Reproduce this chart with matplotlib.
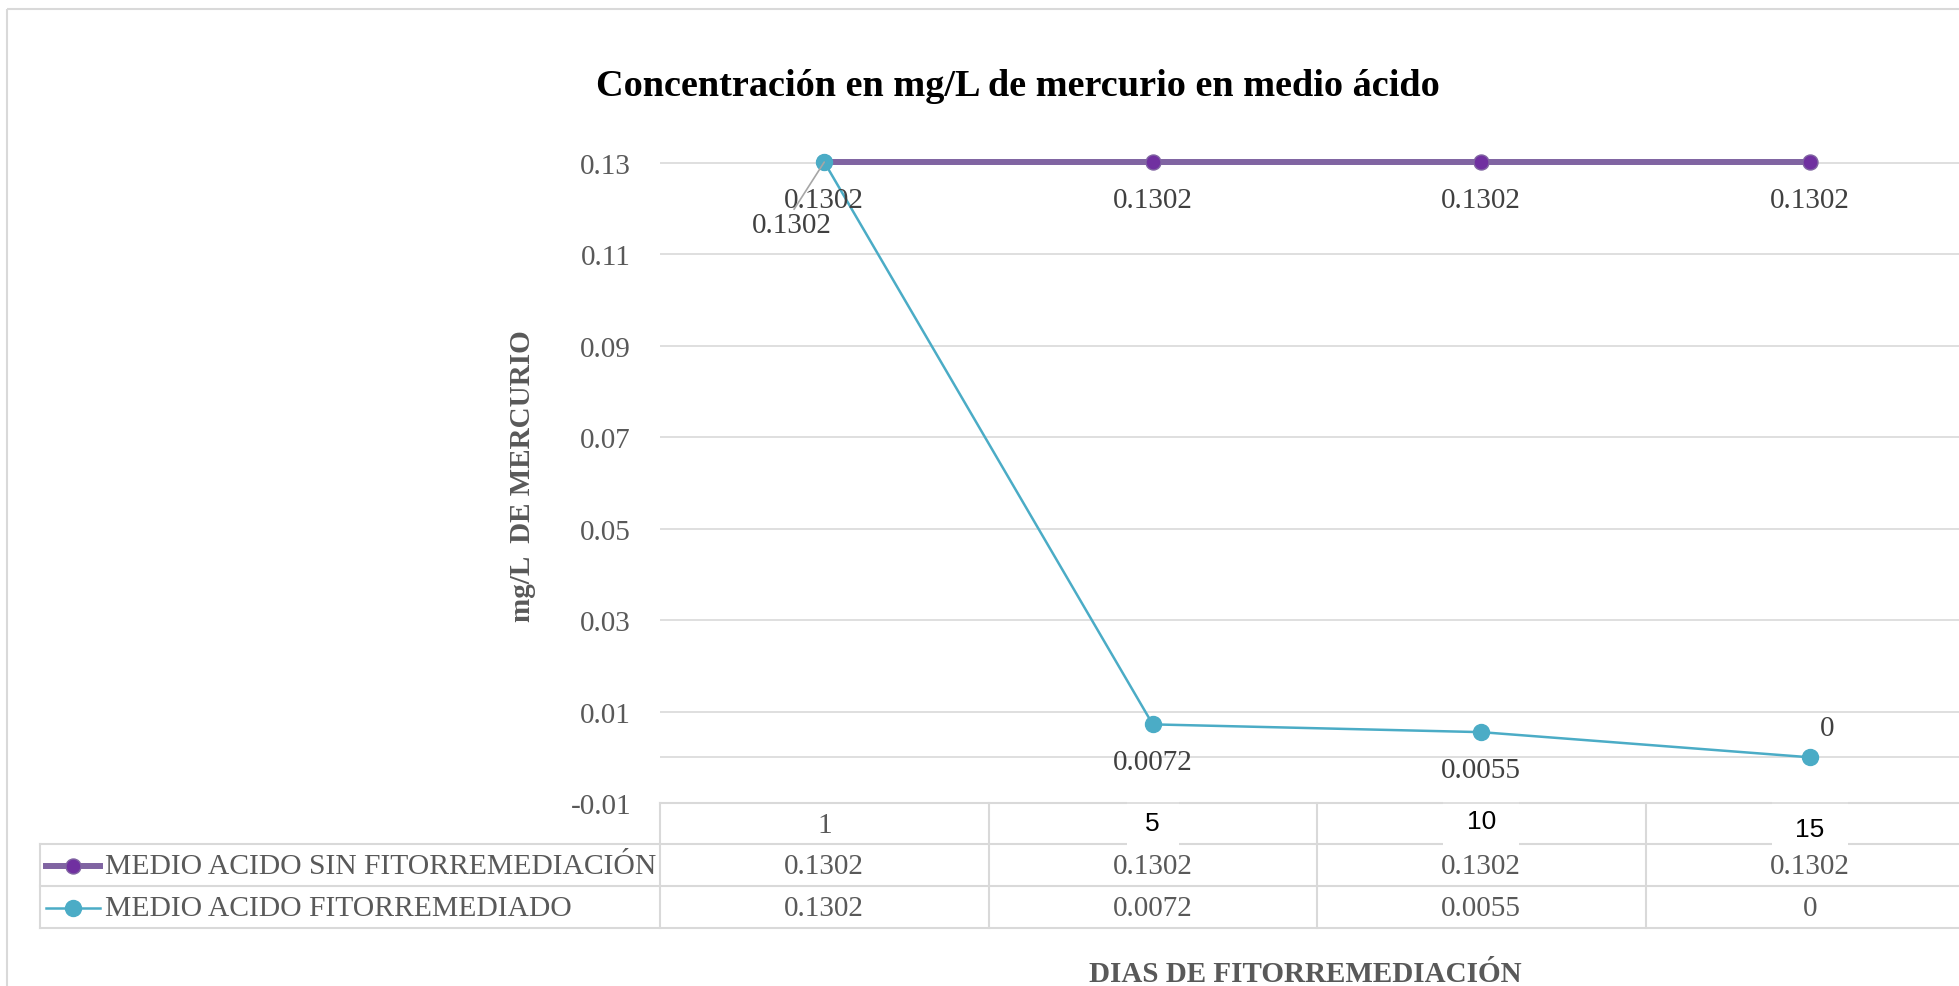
import matplotlib.pyplot as plt
from matplotlib.transforms import blended_transform_factory
from matplotlib.patches import Rectangle
from matplotlib.lines import Line2D

plt.rcParams['font.family'] = ['Liberation Serif', 'DejaVu Serif']

# datos
dias = ['1', '5', '10', '15']
sin_fito = [0.1302, 0.1302, 0.1302, 0.1302]
fito = [0.1302, 0.0072, 0.0055, 0]
series = ['MEDIO ACIDO SIN FITORREMEDIACIÓN', 'MEDIO ACIDO FITORREMEDIADO']
y_ticks = [-0.01, 0.01, 0.03, 0.05, 0.07, 0.09, 0.11, 0.13]

titulo = 'Concentración en mg/L de mercurio en medio ácido'
eje_x = 'DIAS DE FITORREMEDIACIÓN'
eje_y = 'mg/L  DE MERCURIO'

c_morado, c_morado_mk = '#8064A2', '#7030A0'
c_cian = '#4BACC6'
c_grid = '#D9D9D9'
c_txt = '#595959'
c_lbl = '#404040'

W, H = 1959, 987
PX = 0.72  # pixels -> points at dpi 100

fig = plt.figure(figsize=(W / 100, H / 100), dpi=100)

# capa de fondo en pixeles (origen arriba a la izquierda)
over = fig.add_axes([0, 0, 1, 1], zorder=0)
over.set_xlim(0, W)
over.set_ylim(H, 0)
over.axis('off')

# area de trazado
y0, y1 = -0.0102, 0.135
scale = (804 - 164) / 0.14
bot = 804 + (-0.01 - y0) * scale
top = 804 - (y1 + 0.01) * scale
band = 328.5
ax = fig.add_axes([660 / W, 1 - bot / H, (W - 660) / W, (bot - top) / H], zorder=1)
ax.patch.set_alpha(0)
x = list(range(len(dias)))
ax.set_xlim(-0.5, -0.5 + (W - 660) / band)
ax.set_ylim(y0, y1)
for s in ax.spines.values():
    s.set_visible(False)
ax.set_xticks([])
ax.set_yticks(y_ticks)
ax.set_yticklabels([f'{v:g}' for v in y_ticks])
ax.tick_params(axis='y', length=0, labelsize=21, labelcolor=c_txt, pad=29 * PX)
ax.yaxis.grid(True, color=c_grid, lw=1.2)
ax.axhline(0, color=c_grid, lw=1.2, zorder=1)

ax.plot(x, sin_fito, color=c_morado, lw=4.3, marker='o', ms=10.8,
        mfc=c_morado_mk, mec=c_morado, mew=1, zorder=3, clip_on=False)
ax.plot(x, fito, color=c_cian, lw=1.8, marker='o', ms=11.5,
        mfc=c_cian, mec=c_cian, zorder=4, clip_on=False)

# etiquetas de datos
for xi, v in zip(x, sin_fito):
    ax.annotate(f'{v:g}', (xi, v), xytext=(0, -38 * PX), textcoords='offset points',
                ha='center', va='center', fontsize=21, color=c_lbl, zorder=5)

offs = [(-32, 63), (0, 38), (0, 38), (17, -29)]
for i, (xi, v) in enumerate(zip(x, fito)):
    dx, dy = offs[i]
    kw = {}
    if i == 0:
        kw['arrowprops'] = dict(arrowstyle='-', color='#A6A6A6', lw=1.2,
                                shrinkA=0, shrinkB=0, relpos=(0.5, 1.0))
    ax.annotate(f'{v:g}', (xi, v), xytext=(dx * PX, -dy * PX), textcoords='offset points',
                ha='center', va='center', fontsize=21, color=c_lbl, zorder=5, **kw)

# tabla de datos
tr = blended_transform_factory(ax.transData, over.transData)
lkw = dict(color=c_grid, lw=1.5, zorder=2)
over.plot([660, W], [804, 804], **lkw)
for yy in (845, 887, 929):
    over.plot([40, W], [yy, yy], **lkw)
over.plot([40, 40], [845, 929], **lkw)
over.plot([660, 660], [804, 929], **lkw)
for b in [i + 0.5 for i in x[:-1]]:
    over.plot([b, b], [804, 929], transform=tr, **lkw)

# encabezados de categoria
over.text(x[0], 826, dias[0], transform=tr, ha='center', va='center',
          fontsize=21, color=c_txt, zorder=4)
cajas = [52, 76, 76]
dy_cab = [824, 822, 830]
for xi, d, wpx, yy in zip(x[1:], dias[1:], cajas, dy_cab):
    w = wpx / band
    over.add_patch(Rectangle((xi - w / 2, 798), w, 53, transform=tr,
                             facecolor='white', edgecolor='none', zorder=3))
    over.text(xi, yy, d, transform=tr, ha='center', va='center',
              fontsize=19, family='Liberation Sans', color='black', zorder=4)

filas = [(867, sin_fito, c_morado, c_morado_mk, 4.3, 10.8),
         (909, fito, c_cian, c_cian, 1.8, 11.5)]
for (yy, vals, c, mc, lw, ms), nombre in zip(filas, series):
    for xi, v in zip(x, vals):
        over.text(xi, yy, f'{v:g}', transform=tr, ha='center', va='center',
                  fontsize=21, color=c_txt, zorder=4)
    over.add_line(Line2D([46, 100], [yy, yy], color=c, lw=lw, zorder=4))
    over.plot([73], [yy], marker='o', ms=ms, mfc=mc, mec=c, zorder=5)
    over.text(105, yy, nombre, ha='left', va='center', fontsize=21.3, color=c_txt, zorder=4)

# titulos
over.text(1018, 86, titulo, ha='center', va='center', fontsize=27.5,
          fontweight='bold', color='black')
over.text(1305, 974, eje_x, ha='center', va='center', fontsize=21,
          fontweight='bold', color=c_txt)
over.text(522, 476, eje_y, ha='center', va='center', fontsize=21,
          fontweight='bold', color=c_txt, rotation=90)

# borde del grafico
over.add_patch(Rectangle((7, 10), W, H, fill=False, edgecolor=c_grid, lw=1.5))

fig.savefig('out.png', dpi=100)
